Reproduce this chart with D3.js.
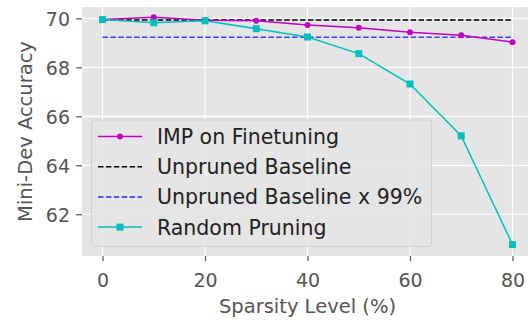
<!DOCTYPE html>
<html><head><meta charset="utf-8">
<script src="https://cdn.jsdelivr.net/npm/d3@7"></script>
<style>body{margin:0;background:#fff}svg{display:block}</style>
</head><body>
<svg id="c" width="528" height="320"></svg>
<script>
const sparsity = [0, 10, 20, 30, 40, 50, 60, 70, 80];
const impAcc = [69.95, 70.05, 69.92, 69.9, 69.73, 69.62, 69.43, 69.31, 69.03];
const randomAcc = [69.95, 69.82, 69.9, 69.58, 69.24, 68.56, 67.32, 65.2, 60.76];
const baseline = 69.93;
const baseline99 = 69.23;
const xTicks = [0, 20, 40, 60, 80];
const yTicks = [62, 64, 66, 68, 70];
const legendLabels = ["IMP on Finetuning", "Unpruned Baseline", "Unpruned Baseline x 99%", "Random Pruning"];

const svg = d3.select("#c");
const L = 82, R = 533, T = 7, B = 256;
const x = d3.scaleLinear().domain([-4, 84]).range([L, R]);
const y = d3.scaleLinear().domain([60.295, 70.465]).range([B, T]);
const font = "DejaVu Sans, sans-serif";

svg.append("rect").attr("x", L).attr("y", T).attr("width", R - L).attr("height", B - T).attr("fill", "#e5e5e5");

const g = svg.append("g");
g.selectAll(".gx").data(xTicks).join("line").attr("x1", d => x(d)).attr("x2", d => x(d)).attr("y1", T).attr("y2", B).attr("stroke", "#fff").attr("stroke-width", 1.2);
g.selectAll(".gy").data(yTicks).join("line").attr("x1", L).attr("x2", R).attr("y1", d => y(d)).attr("y2", d => y(d)).attr("stroke", "#fff").attr("stroke-width", 1.2);

const xAxis = svg.append("g").attr("transform", `translate(0,${B})`).call(d3.axisBottom(x).tickValues(xTicks).tickSize(5).tickPadding(5));
const yAxis = svg.append("g").attr("transform", `translate(${L},0)`).call(d3.axisLeft(y).tickValues(yTicks).tickSize(6).tickPadding(6));
[xAxis, yAxis].forEach(a => {
  a.select(".domain").remove();
  a.selectAll(".tick line").attr("stroke", "#555").attr("stroke-width", 1.2);
  a.selectAll(".tick text").attr("fill", "#555").style("font-family", font).style("font-size", "19px");
});
xAxis.selectAll(".tick text").attr("dy", null).attr("y", 31);
yAxis.selectAll(".tick text").attr("dy", "0.36em");

svg.append("text").attr("x", x(40)).attr("y", 313).attr("text-anchor", "middle").attr("fill", "#555").style("font-family", font).style("font-size", "19.5px").text("Sparsity Level (%)");
svg.append("text").attr("transform", `translate(32,${(T + B) / 2}) rotate(-90)`).attr("text-anchor", "middle").attr("fill", "#555").style("font-family", font).style("font-size", "19.5px").text("Mini-Dev Accuracy");

const line = d3.line().x((d, i) => x(sparsity[i])).y(d => y(d));
const plot = svg.append("g");
plot.append("line").attr("x1", x(0)).attr("x2", x(80)).attr("y1", y(baseline)).attr("y2", y(baseline)).attr("stroke", "#000").attr("stroke-width", 1.5).attr("stroke-dasharray", "5.5,2.4");
plot.append("line").attr("x1", x(0)).attr("x2", x(80)).attr("y1", y(baseline99)).attr("y2", y(baseline99)).attr("stroke", "#2222ff").attr("stroke-opacity", 0.85).attr("stroke-width", 1.5).attr("stroke-dasharray", "5.5,2.4");
plot.append("path").attr("d", line(impAcc)).attr("fill", "none").attr("stroke", "#bf00bf").attr("stroke-width", 1.5);
plot.selectAll(".imp").data(impAcc).join("circle").attr("cx", (d, i) => x(sparsity[i])).attr("cy", d => y(d)).attr("r", 3).attr("fill", "#bf00bf");
plot.append("path").attr("d", line(randomAcc)).attr("fill", "none").attr("stroke", "#00bfbf").attr("stroke-width", 1.5);
plot.selectAll(".rnd").data(randomAcc).join("rect").attr("x", (d, i) => x(sparsity[i]) - 3.5).attr("y", d => y(d) - 3.5).attr("width", 7).attr("height", 7).attr("fill", "#00bfbf");

const lg = svg.append("g");
lg.append("rect").attr("x", 91.5).attr("y", 120).attr("width", 340).attr("height", 126.5).attr("rx", 3).attr("fill", "#e5e5e5").attr("fill-opacity", 0.8).attr("stroke", "#d0d0d0").attr("stroke-width", 1);
const styles = [
  {c: "#bf00bf", dash: null, mk: "circle"},
  {c: "#000", dash: "5.5,2.4", mk: null},
  {c: "#2222ff", dash: "5.5,2.4", mk: null},
  {c: "#00bfbf", dash: null, mk: "square"}
];
legendLabels.forEach((lab, i) => {
  const yy = 136.5 + i * 30.2;
  const s = styles[i];
  const ln = lg.append("line").attr("x1", 98).attr("x2", 142).attr("y1", yy).attr("y2", yy).attr("stroke", s.c).attr("stroke-width", 1.5);
  if (s.dash) ln.attr("stroke-dasharray", s.dash);
  if (s.mk === "circle") lg.append("circle").attr("cx", 120).attr("cy", yy).attr("r", 3).attr("fill", s.c);
  if (s.mk === "square") lg.append("rect").attr("x", 116.5).attr("y", yy - 3.5).attr("width", 7).attr("height", 7).attr("fill", s.c);
  lg.append("text").attr("x", 157).attr("y", yy + 7.5).attr("fill", "#222").style("font-family", font).style("font-size", "20.5px").text(lab);
});
</script>
</body></html>
